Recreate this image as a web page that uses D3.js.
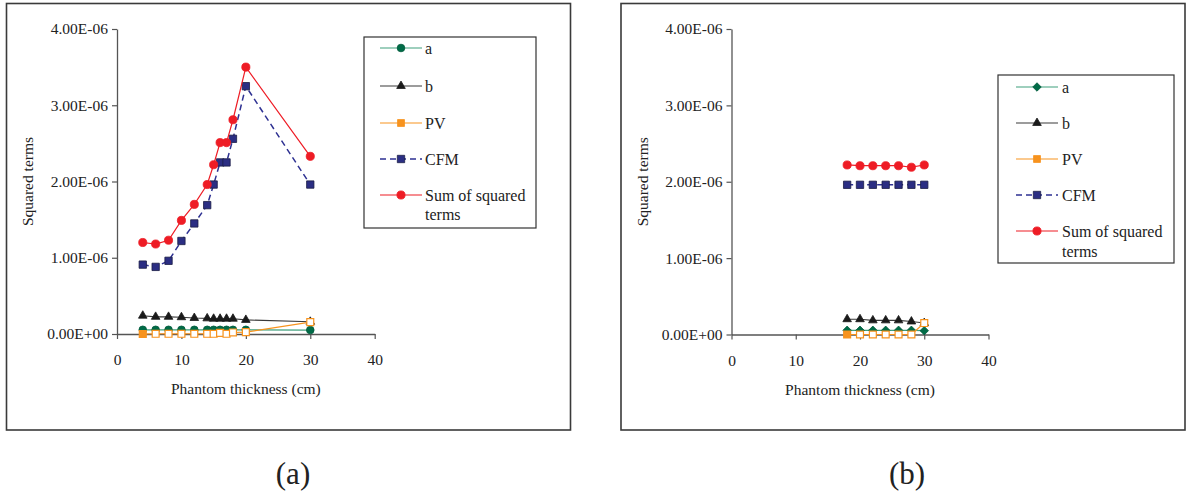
<!DOCTYPE html>
<html>
<head>
<meta charset="utf-8">
<script src="https://cdn.jsdelivr.net/npm/d3@7"></script>
<style>
  html, body { margin: 0; padding: 0; background: #fff; }
  svg { display: block; }
  svg text { font-family: "Liberation Serif", Tinos, "Times New Roman", Times, "DejaVu Serif", serif; fill: #222; }
</style>
</head>
<body>
<svg id="chart" width="1202" height="492"></svg>
<script>
// ---- Panel (a): phantom thickness scan ----
const thicknessA = [4, 6, 8, 10, 12, 14, 15, 16, 17, 18, 20, 30];
const aA   = [0.055e-6, 0.055e-6, 0.055e-6, 0.055e-6, 0.055e-6, 0.055e-6, 0.055e-6, 0.055e-6, 0.055e-6, 0.055e-6, 0.055e-6, 0.052e-6];
const bA   = [0.24e-6, 0.225e-6, 0.225e-6, 0.22e-6, 0.21e-6, 0.205e-6, 0.2e-6, 0.2e-6, 0.2e-6, 0.2e-6, 0.185e-6, 0.16e-6];
const pvA  = [0, 0.003e-6, 0.003e-6, 0.003e-6, 0.003e-6, 0.003e-6, 0.003e-6, 0.015e-6, 0.003e-6, 0.02e-6, 0.025e-6, 0.155e-6];
const cfmA = [0.91e-6, 0.88e-6, 0.96e-6, 1.22e-6, 1.45e-6, 1.69e-6, 1.96e-6, 2.25e-6, 2.25e-6, 2.56e-6, 3.25e-6, 1.96e-6];
const sumA = [1.20e-6, 1.18e-6, 1.23e-6, 1.49e-6, 1.70e-6, 1.96e-6, 2.22e-6, 2.51e-6, 2.51e-6, 2.81e-6, 3.50e-6, 2.33e-6];

// ---- Panel (b) ----
const thicknessB = [18, 20, 22, 24, 26, 28, 30];
const aB   = [0.055e-6, 0.055e-6, 0.055e-6, 0.055e-6, 0.055e-6, 0.055e-6, 0.05e-6];
const bB   = [0.2e-6, 0.2e-6, 0.185e-6, 0.185e-6, 0.185e-6, 0.17e-6, 0.15e-6];
const pvB  = [0, 0, 0, 0, 0, 0, 0.15e-6];
const cfmB = [1.96e-6, 1.96e-6, 1.96e-6, 1.96e-6, 1.96e-6, 1.96e-6, 1.96e-6];
const sumB = [2.22e-6, 2.21e-6, 2.21e-6, 2.21e-6, 2.21e-6, 2.19e-6, 2.22e-6];

// ---- Axis ticks and labels ----
const xTicks = [0, 10, 20, 30, 40];
const yTicks = [0, 1e-6, 2e-6, 3e-6, 4e-6];
const yTickLabels = ["0.00E+00", "1.00E-06", "2.00E-06", "3.00E-06", "4.00E-06"];
const seriesNames = ["a", "b", "PV", "CFM", "Sum of squared terms"];
const xTitle = "Phantom thickness (cm)";
const yTitle = "Squared terms";
const panelLabels = ["(a)", "(b)"];

const SERIF = '"Liberation Serif", Tinos, "Times New Roman", Times, serif';
const svg = d3.select("#chart");

// square turned 45 degrees
const symbolRhombus = {
  draw(ctx, size) {
    const r = Math.sqrt(size / 2);
    ctx.moveTo(0, -r); ctx.lineTo(r, 0); ctx.lineTo(0, r); ctx.lineTo(-r, 0); ctx.closePath();
  }
};

const styles = {
  a:   { line: "#3f9f7c", fill: "#006b47", stroke: "#005a3b", dash: null, width: 1.2 },
  b:   { line: "#3a3a3a", fill: "#1a1a1a", stroke: "#1a1a1a", dash: null, width: 1.1 },
  PV:  { line: "#f7931e", fill: "#f7931e", stroke: "#f7931e", dash: null, width: 1.2 },
  CFM: { line: "#2e3192", fill: "#2b2e83", stroke: "#1b1d45", dash: "6,4", width: 1.5 },
  Sum: { line: "#ee1c25", fill: "#ee1c25", stroke: "#ee1c25", dash: null, width: 1.2 }
};

function drawPanel(cfg) {
  const g = svg.append("g");

  // outer frame
  g.append("rect")
    .attr("x", cfg.frame[0]).attr("y", cfg.frame[1])
    .attr("width", cfg.frame[2]).attr("height", cfg.frame[3])
    .attr("fill", "none").attr("stroke", "#3a3a3a").attr("stroke-width", 1.6);

  const x = d3.scaleLinear().domain([0, 40]).range(cfg.xRange);
  const y = d3.scaleLinear().domain([0, 4e-6]).range(cfg.yRange);

  // axes
  const xAxis = g.append("g")
    .attr("transform", `translate(0,${cfg.yRange[0]})`)
    .call(d3.axisBottom(x).tickValues(xTicks).tickSize(5).tickPadding(15).tickSizeOuter(0));
  const yAxis = g.append("g")
    .attr("transform", `translate(${cfg.xRange[0]},0)`)
    .call(d3.axisLeft(y).tickValues(yTicks).tickSize(5).tickPadding(4).tickSizeOuter(0)
      .tickFormat((d, i) => yTickLabels[i]));
  [xAxis, yAxis].forEach(ax => {
    ax.attr("font-family", SERIF).attr("font-size", 15.5);
    ax.select(".domain").attr("stroke", "#555").attr("stroke-width", 1.3);
    ax.selectAll(".tick line").attr("stroke", "#555").attr("stroke-width", 1.2);
    ax.selectAll(".tick text").attr("fill", "#222");
  });

  // axis titles
  g.append("text")
    .attr("x", (cfg.xRange[0] + cfg.xRange[1]) / 2).attr("y", cfg.yRange[0] + 60)
    .attr("text-anchor", "middle").attr("font-size", 15.5).text(xTitle);
  g.append("text")
    .attr("transform", `translate(${cfg.xRange[0] - 84},${(cfg.yRange[0] + cfg.yRange[1]) / 2}) rotate(-90)`)
    .attr("text-anchor", "middle").attr("font-size", 15.5).text(yTitle);

  // series
  const series = [
    { key: "a",   vals: cfg.a,   sym: cfg.aSymbol },
    { key: "b",   vals: cfg.b,   sym: d3.symbolTriangle },
    { key: "PV",  vals: cfg.pv,  sym: d3.symbolSquare },
    { key: "CFM", vals: cfg.cfm, sym: d3.symbolSquare },
    { key: "Sum", vals: cfg.sum, sym: d3.symbolCircle }
  ];
  const symSize = { a: cfg.aSymbol === symbolRhombus ? 36 : 46, b: 32, PV: 48, CFM: 54, Sum: 52 };

  const line = d3.line().x(d => x(d[0])).y(d => y(d[1]));
  series.forEach(s => {
    const st = styles[s.key];
    const pts = cfg.xs.map((t, i) => [t, s.vals[i]]);
    g.append("path").datum(pts)
      .attr("d", line).attr("fill", "none")
      .attr("stroke", st.line).attr("stroke-width", st.width)
      .attr("stroke-dasharray", st.dash);
    g.selectAll(null).data(pts).enter().append("path")
      .attr("transform", d => `translate(${x(d[0])},${y(d[1])})`)
      .attr("d", d3.symbol().type(s.sym).size(symSize[s.key]))
      .attr("fill", (d, i) => s.key === "PV" && i > 0 ? "#fff" : st.fill)
      .attr("stroke", st.stroke).attr("stroke-width", s.key === "PV" ? 1.2 : 0.8);
  });

  // legend
  const L = cfg.legend;
  g.append("rect")
    .attr("x", L.box[0]).attr("y", L.box[1]).attr("width", L.box[2]).attr("height", L.box[3])
    .attr("fill", "#fff").attr("stroke", "#333").attr("stroke-width", 1.2);
  series.forEach((s, i) => {
    const st = styles[s.key];
    const cy = L.rows[i];
    g.append("line")
      .attr("x1", L.lineX[0]).attr("x2", L.lineX[1]).attr("y1", cy).attr("y2", cy)
      .attr("stroke", st.line).attr("stroke-width", st.width)
      .attr("stroke-dasharray", st.dash);
    g.append("path")
      .attr("transform", `translate(${(L.lineX[0] + L.lineX[1]) / 2},${cy})`)
      .attr("d", d3.symbol().type(s.sym).size(symSize[s.key]))
      .attr("fill", st.fill).attr("stroke", st.stroke).attr("stroke-width", 0.8);
    const label = g.append("text").attr("x", L.textX).attr("y", cy).attr("dy", "0.35em")
      .attr("font-size", 16);
    if (s.key === "Sum") {
      label.text("Sum of squared");
      g.append("text").attr("x", L.textX).attr("y", cy + L.wrap).attr("dy", "0.35em")
        .attr("font-size", 16).text("terms");
    } else {
      label.text(seriesNames[i]);
    }
  });

  // panel caption
  g.append("text")
    .attr("x", cfg.caption[0]).attr("y", cfg.caption[1])
    .attr("text-anchor", "middle").attr("font-size", 31).text(cfg.label);
}

drawPanel({
  frame: [6.5, 3.5, 564, 426.5],
  xRange: [117, 374.7], yRange: [334, 29],
  xs: thicknessA, a: aA, b: bA, pv: pvA, cfm: cfmA, sum: sumA,
  aSymbol: d3.symbolCircle,
  legend: { box: [364, 37, 172, 191], rows: [48, 86, 123, 159, 195], wrap: 19,
            lineX: [380, 422], textX: 425 },
  caption: [293, 484], label: panelLabels[0]
});

drawPanel({
  frame: [621, 3.5, 564, 426.5],
  xRange: [731.5, 988.5], yRange: [334.5, 29],
  xs: thicknessB, a: aB, b: bB, pv: pvB, cfm: cfmB, sum: sumB,
  aSymbol: symbolRhombus,
  legend: { box: [998, 75, 176, 188], rows: [87, 123, 159, 195, 231], wrap: 20,
            lineX: [1016, 1058], textX: 1062 },
  caption: [907, 484], label: panelLabels[1]
});
</script>
</body>
</html>
